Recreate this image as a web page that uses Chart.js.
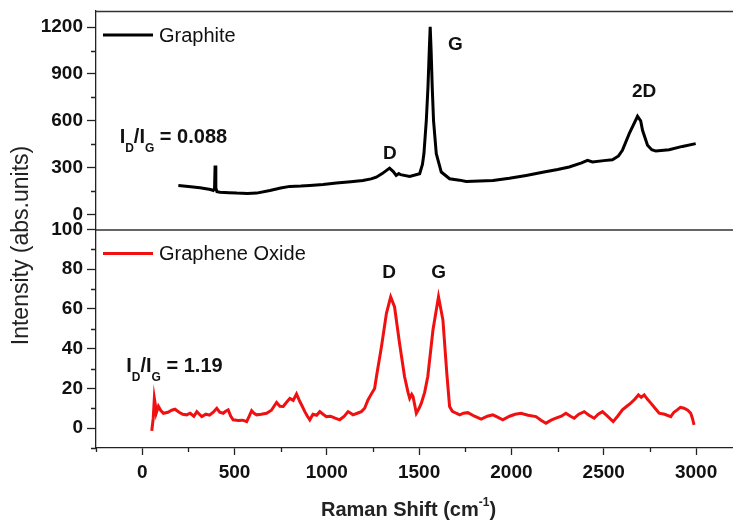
<!DOCTYPE html>
<html>
<head>
<meta charset="utf-8">
<title>Raman spectra</title>
<script src="https://cdn.jsdelivr.net/npm/chart.js@4.4.0/dist/chart.umd.min.js"></script>
<style>
  html, body { margin: 0; padding: 0; background: #fff; }
  canvas { display: block; }
</style>
</head>
<body>
<canvas id="raman" width="733" height="525"></canvas>
<script>
// values
const graphiteShift = [196, 250, 313, 370, 385, 392, 395, 399, 405, 422, 470, 512, 570, 620, 692, 750, 800, 860, 908, 980,
  1052, 1130, 1195, 1240, 1268, 1300, 1340, 1360, 1376, 1390, 1400, 1449, 1503, 1518, 1526, 1539, 1548, 1555, 1560, 1565,
  1571, 1578, 1593, 1620, 1665, 1719, 1755, 1827, 1900, 1989, 2080, 2169, 2250, 2313, 2380, 2412, 2439, 2500, 2547, 2580,
  2601, 2638, 2683, 2700, 2710, 2737, 2760, 2782, 2854, 2926, 2998];
const graphiteIntensity = [186, 180, 171, 160, 154, 165, 314, 170, 146, 143, 140, 137, 135, 137, 154, 170, 180, 182, 186, 192,
  201, 210, 218, 228, 239, 262, 297, 275, 250, 262, 255, 244, 261, 320, 389, 603, 817, 1050, 1202, 1050,
  817, 603, 389, 272, 229, 220, 212, 215, 218, 232, 250, 270, 288, 304, 330, 347, 336, 345, 351, 375,
  411, 518, 629, 600, 539, 443, 415, 406, 415, 436, 454];

const goShift = [52, 60, 66, 71, 76, 88, 100, 115, 140, 160, 178, 200, 220, 241, 260, 280, 296, 310, 323, 345,
  365, 385, 404, 420, 439, 452, 466, 480, 493, 520, 545, 566, 580, 593, 606, 620, 645, 674, 700, 728,
  746, 764, 782, 800, 818, 836, 854, 867, 881, 895, 908, 925, 945, 962, 980, 998, 1020, 1045, 1070, 1095,
  1115, 1130, 1142, 1165, 1187, 1205, 1223, 1240, 1259, 1269, 1296, 1323, 1346, 1367, 1394, 1421, 1440, 1449, 1460, 1467,
  1485, 1500, 1512, 1530, 1547, 1575, 1605, 1629, 1650, 1665, 1680, 1701, 1720, 1740, 1764, 1800, 1836, 1870, 1899, 1925,
  1953, 1990, 2020, 2052, 2090, 2133, 2160, 2187, 2215, 2241, 2270, 2295, 2320, 2340, 2365, 2394, 2420, 2448, 2470, 2493,
  2520, 2551, 2575, 2601, 2625, 2646, 2668, 2688, 2703, 2719, 2737, 2755, 2778, 2800, 2830, 2863, 2880, 2898, 2915, 2935,
  2955, 2971, 2980, 2989];
const goIntensity = [-1.4, 5, 15, 12, 7.5, 11, 9, 7.5, 8, 9, 9.5, 8, 7, 6.7, 7.5, 6, 8.3, 7, 5.8, 7,
  6.5, 8, 10, 8, 7.5, 8.5, 9.2, 6, 4.2, 3.8, 4, 3.3, 6, 8.8, 7.5, 6.7, 7, 7.5, 9, 12.9,
  11, 10.9, 13, 15, 14, 17.2, 13.4, 11, 8.3, 6, 4.2, 7, 6.5, 8.3, 7, 5.8, 6, 5, 4.2, 6,
  8.3, 7.5, 6.7, 7.5, 8.3, 10, 14.2, 17, 20, 26, 41, 57.8, 66.1, 61, 42.7, 26, 18, 15, 17, 15.9,
  7.5, 10, 12.6, 18, 26, 49.4, 66.1, 54.4, 27.6, 10.9, 8.5, 7.5, 6.7, 7.5, 7.8, 6, 4.5, 6, 6.7, 5.5,
  4.2, 6, 7, 7.5, 6.5, 5.8, 4, 2.5, 4, 5, 6, 7.5, 6, 5, 7, 8.3, 6.5, 5, 7, 8.3,
  6, 3.3, 6, 9.2, 11, 12.6, 14.5, 16.7, 15.5, 16.7, 14.5, 12.6, 10, 7.5, 7, 5.8, 8, 9.2, 10.5, 10,
  9, 7.5, 5, 1.7];

const xTicks = [0, 500, 1000, 1500, 2000, 2500, 3000];
const yTopTicks = [0, 300, 600, 900, 1200];
const yBotTicks = [0, 20, 40, 60, 80, 100];

const seriesNames = ['Graphite', 'Graphene Oxide'];
const ratioValues = ['0.088', '1.19'];

// labels placed in data units of each panel
const peakLabels = [
  { text: 'D', x: 1342, y: 386, axis: 'yTop' },
  { text: 'G', x: 1697, y: 1090, axis: 'yTop' },
  { text: '2D', x: 2719, y: 785, axis: 'yTop' },
  { text: 'D', x: 1338, y: 78, axis: 'yBot' },
  { text: 'G', x: 1606, y: 78, axis: 'yBot' }
];
const ratioLabels = [
  { value: ratioValues[0], x: -122, y: 456, axis: 'yTop' },
  { value: ratioValues[1], x: -86, y: 28.4, axis: 'yBot' }
];

const FONT = '"Liberation Sans", Arial, sans-serif';
const AXIS = '#222';

const toPoints = (xs, ys) => xs.map((x, i) => ({ x: x, y: ys[i] }));
const setTicks = values => scale => { scale.ticks = values.map(v => ({ value: v })); };
const plain = v => String(v);
// fixed width for the left column, and no extra room for half labels at the ends
const fitLeft = s => { s.width = 96; s.paddingTop = 0; s.paddingBottom = 0; };

function drawRatio(ctx, px, py, value) {
  const big = 'bold 20px ' + FONT, small = 'bold 12px ' + FONT;
  let cx = px;
  const part = (txt, font, dy) => {
    ctx.font = font;
    ctx.fillText(txt, cx, py + dy);
    cx += ctx.measureText(txt).width;
  };
  part('I', big, 0);
  part('D', small, 9);
  part('/I', big, 0);
  part('G', small, 9);
  part(' = ' + value, big, 0);
}

const decor = {
  id: 'decor',
  afterDraw(chart) {
    const { ctx, chartArea, scales } = chart;
    const x = scales.x, yT = scales.yTop, yB = scales.yBot;
    ctx.save();

    // frame: top edge and separator between panels
    ctx.strokeStyle = '#333';
    ctx.lineWidth = 1.5;
    ctx.beginPath();
    ctx.moveTo(chartArea.left, yT.top + 0.5);
    ctx.lineTo(chartArea.right, yT.top + 0.5);
    ctx.moveTo(chartArea.left, yB.top + 0.5);
    ctx.lineTo(chartArea.right, yB.top + 0.5);
    ctx.stroke();

    // minor ticks halfway between the major ones
    ctx.strokeStyle = AXIS;
    ctx.lineWidth = 1.3;
    ctx.beginPath();
    const xs = xTicks[1] - xTicks[0];
    for (let v = xTicks[0] - xs / 2; v <= x.max; v += xs) {
      if (v < x.min) continue;
      const p = Math.round(x.getPixelForValue(v)) + 0.5;
      ctx.moveTo(p, x.top);
      ctx.lineTo(p, x.top + 4);
    }
    [[yT, yTopTicks], [yB, yBotTicks]].forEach(([s, t]) => {
      const st = t[1] - t[0];
      for (let v = t[0] - st / 2; v <= s.max; v += st) {
        if (v < s.min) continue;
        const p = Math.round(s.getPixelForValue(v)) + 0.5;
        ctx.moveTo(s.right - 5, p);
        ctx.lineTo(s.right, p);
      }
    });
    ctx.stroke();

    // in-panel legends
    const colors = ['#000', '#f01010'];
    [yT, yB].forEach((s, i) => {
      const ly = s.top + 24;
      ctx.strokeStyle = colors[i];
      ctx.lineWidth = 3;
      ctx.beginPath();
      ctx.moveTo(chartArea.left + 7, ly);
      ctx.lineTo(chartArea.left + 57, ly);
      ctx.stroke();
      ctx.fillStyle = '#111';
      ctx.font = '20px ' + FONT;
      ctx.textBaseline = 'middle';
      ctx.textAlign = 'left';
      ctx.fillText(seriesNames[i], chartArea.left + 63, ly + 1);
    });

    // peak names
    ctx.fillStyle = '#111';
    ctx.font = 'bold 19px ' + FONT;
    ctx.textAlign = 'center';
    ctx.textBaseline = 'middle';
    peakLabels.forEach(l => {
      ctx.fillText(l.text, x.getPixelForValue(l.x), scales[l.axis].getPixelForValue(l.y));
    });

    // intensity ratios
    ctx.textAlign = 'left';
    ctx.textBaseline = 'alphabetic';
    ratioLabels.forEach(l => {
      drawRatio(ctx, x.getPixelForValue(l.x), scales[l.axis].getPixelForValue(l.y), l.value);
    });

    // axis titles
    ctx.fillStyle = '#222';
    ctx.font = '23px ' + FONT;
    ctx.textAlign = 'center';
    ctx.textBaseline = 'middle';
    ctx.save();
    ctx.translate(22, (yT.top + yB.bottom) / 2 + 16);
    ctx.rotate(-Math.PI / 2);
    ctx.fillText('Intensity (abs.units)', 0, 0);
    ctx.restore();

    const bigT = 'bold 20px ' + FONT, supT = 'bold 12px ' + FONT;
    ctx.font = bigT;
    const w1 = ctx.measureText('Raman Shift (cm').width;
    const w3 = ctx.measureText(')').width;
    ctx.font = supT;
    const w2 = ctx.measureText('-1').width;
    let tx = (chartArea.left + chartArea.right) / 2 - 6 - (w1 + w2 + w3) / 2;
    const ty = 516;
    ctx.textAlign = 'left';
    ctx.textBaseline = 'alphabetic';
    ctx.font = bigT;
    ctx.fillText('Raman Shift (cm', tx, ty);
    ctx.font = supT;
    ctx.fillText('-1', tx + w1, ty - 10);
    ctx.font = bigT;
    ctx.fillText(')', tx + w1 + w2, ty);

    ctx.restore();
  }
};

const tickFont = { family: FONT, size: 19, weight: 'bold' };

new Chart(document.getElementById('raman'), {
  type: 'line',
  data: {
    datasets: [
      {
        label: seriesNames[0],
        data: toPoints(graphiteShift, graphiteIntensity),
        yAxisID: 'yTop',
        borderColor: '#000',
        borderWidth: 3,
        pointRadius: 0,
        tension: 0
      },
      {
        label: seriesNames[1],
        data: toPoints(goShift, goIntensity),
        yAxisID: 'yBot',
        borderColor: '#f01010',
        borderWidth: 3,
        pointRadius: 0,
        tension: 0
      }
    ]
  },
  options: {
    responsive: false,
    animation: false,
    layout: { padding: { top: 11, left: 0, right: 0, bottom: 0 } },
    plugins: {
      legend: { display: false },
      tooltip: { enabled: false }
    },
    scales: {
      x: {
        type: 'linear',
        min: -250,
        max: 3200,
        afterBuildTicks: setTicks(xTicks),
        afterFit: s => { s.height = 77; },
        ticks: { font: tickFont, color: '#111', padding: 6, autoSkip: false, maxRotation: 0, callback: plain },
        grid: { drawOnChartArea: false, tickLength: 7, tickColor: AXIS, tickWidth: 1.3 },
        border: { color: AXIS, width: 1.3 }
      },
      // the first scale of a stack lands at the bottom
      yBot: {
        type: 'linear',
        position: 'left',
        stack: 'panels',
        stackWeight: 1,
        min: -10,
        max: 100,
        afterBuildTicks: setTicks(yBotTicks),
        afterFit: fitLeft,
        ticks: { font: tickFont, color: '#111', padding: 4, autoSkip: false, callback: plain },
        grid: { drawOnChartArea: false, tickLength: 9, tickColor: AXIS, tickWidth: 1.3 },
        border: { color: AXIS, width: 1.3 }
      },
      yTop: {
        type: 'linear',
        position: 'left',
        stack: 'panels',
        stackWeight: 1,
        min: -96,
        max: 1303,
        afterBuildTicks: setTicks(yTopTicks),
        afterFit: fitLeft,
        ticks: { font: tickFont, color: '#111', padding: 4, autoSkip: false, callback: plain },
        grid: { drawOnChartArea: false, tickLength: 9, tickColor: AXIS, tickWidth: 1.3 },
        border: { color: AXIS, width: 1.3 }
      }
    }
  },
  plugins: [decor]
});
</script>
</body>
</html>
